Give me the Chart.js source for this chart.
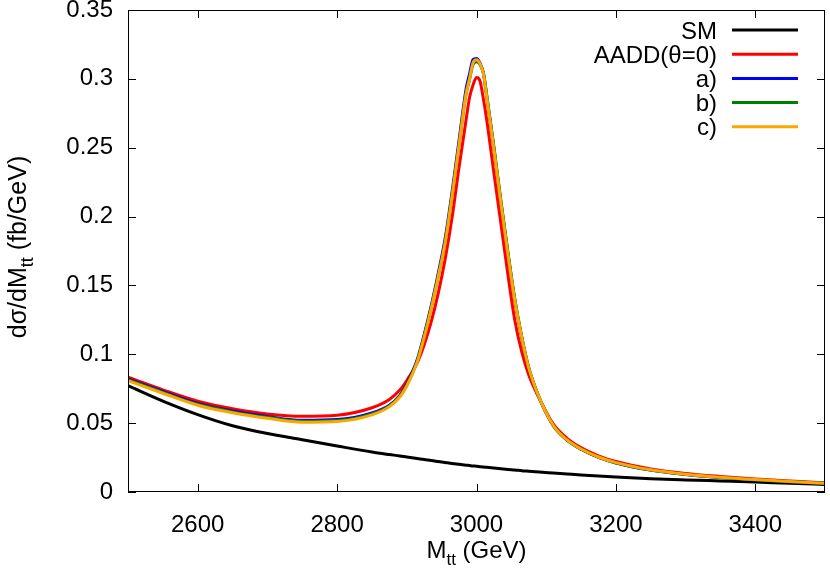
<!DOCTYPE html>
<html>
<head>
<meta charset="utf-8">
<script src="https://cdn.jsdelivr.net/npm/chart.js@4.4.1/dist/chart.umd.min.js"></script>
<style>
  html, body { margin: 0; padding: 0; background: #fff; }
  #wrap { width: 830px; height: 568px; }
</style>
</head>
<body>
<div id="wrap"><canvas id="myChart" width="830" height="568"></canvas></div>
<script>
// M_tt bins (GeV)
let mass = [2500, 2550, 2600, 2650, 2700, 2750, 2800, 2850, 2875, 2890, 2900, 2915, 2925, 2935, 2945, 2955, 2965, 2975, 2985, 2990,
  2995, 3000, 3005, 3010, 3015, 3025, 3035, 3045, 3055, 3065, 3075, 3090, 3110, 3130, 3150, 3175, 3200, 3250, 3300, 3350, 3400, 3450, 3500];

// dsigma/dM (fb/GeV)
let smVals = [0.0772, 0.0660, 0.0562, 0.0481, 0.0425, 0.0380, 0.0334, 0.0290, 0.0272, 0.0262, 0.0254, 0.0243, 0.0236, 0.0228, 0.0221, 0.0214, 0.0207, 0.0201, 0.0195, 0.0192,
  0.0189, 0.0187, 0.0184, 0.0181, 0.0179, 0.0174, 0.0169, 0.0164, 0.0160, 0.0155, 0.0151, 0.0145, 0.0138, 0.0131, 0.0124, 0.0116, 0.0109, 0.0097, 0.0088, 0.0080, 0.0072, 0.0063, 0.0055];
let aaddVals = [0.0834, 0.0742, 0.0660, 0.0605, 0.0567, 0.0550, 0.0558, 0.0612, 0.0672, 0.0740, 0.0810, 0.0940, 0.1070, 0.1235, 0.1440, 0.1690, 0.1994, 0.2360, 0.2700, 0.2865,
  0.2955, 0.3010, 0.2985, 0.2850, 0.2690, 0.2315, 0.1950, 0.1580, 0.1245, 0.1015, 0.0850, 0.0680, 0.0495, 0.0390, 0.0322, 0.0263, 0.0221, 0.0168, 0.0135, 0.0113, 0.0095, 0.0080, 0.0067];
let aVals = [0.0822, 0.0730, 0.0643, 0.0588, 0.0548, 0.0521, 0.0526, 0.0574, 0.0630, 0.0702, 0.0785, 0.0962, 0.1145, 0.1352, 0.1585, 0.1840, 0.2180, 0.2555, 0.2925, 0.3035,
  0.3140, 0.3148, 0.3115, 0.3040, 0.2862, 0.2495, 0.2105, 0.1735, 0.1393, 0.1120, 0.0898, 0.0683, 0.0483, 0.0376, 0.0310, 0.0252, 0.0211, 0.0159, 0.0127, 0.0105, 0.0088, 0.0075, 0.0063];
let bVals = [0.0815, 0.0723, 0.0637, 0.0582, 0.0542, 0.0514, 0.0519, 0.0567, 0.0625, 0.0696, 0.0778, 0.0952, 0.1133, 0.1337, 0.1565, 0.1817, 0.2155, 0.2525, 0.2890, 0.2995,
  0.3105, 0.3125, 0.3105, 0.3040, 0.2870, 0.2505, 0.2115, 0.1745, 0.1400, 0.1126, 0.0903, 0.0686, 0.0484, 0.0377, 0.0311, 0.0253, 0.0212, 0.0160, 0.0128, 0.0106, 0.0089, 0.0075, 0.0063];
let cVals = [0.0809, 0.0717, 0.0630, 0.0575, 0.0535, 0.0507, 0.0512, 0.0560, 0.0620, 0.0690, 0.0770, 0.0945, 0.1125, 0.1330, 0.1560, 0.1810, 0.2150, 0.2520, 0.2890, 0.3000,
  0.3115, 0.3138, 0.3110, 0.3035, 0.2857, 0.2490, 0.2100, 0.1730, 0.1390, 0.1120, 0.0900, 0.0685, 0.0485, 0.0378, 0.0312, 0.0254, 0.0213, 0.0161, 0.0129, 0.0107, 0.0090, 0.0076, 0.0064];

let seriesNames = ['SM', 'AADD(θ=0)', 'a)', 'b)', 'c)'];
let seriesColors = ['#000000', '#ff0000', '#0000ff', '#008000', '#ffa500'];

let xTicks = [2600, 2800, 3000, 3200, 3400];
let xTickLabels = ['2600', '2800', '3000', '3200', '3400'];
let yTicks = [0, 0.05, 0.1, 0.15, 0.2, 0.25, 0.3, 0.35];
let yTickLabels = ['0', '0.05', '0.1', '0.15', '0.2', '0.25', '0.3', '0.35'];

let xTitle = ['M', 'tt', ' (GeV)'];
let yTitle = ['dσ/dM', 'tt', ' (fb/GeV)'];

const FONT = "'Liberation Sans', Arial, sans-serif";

function pairs(vals) {
  return mass.map((m, i) => ({ x: m, y: vals[i] }));
}

// text with a subscript in the middle: [before, sub, after]
function subText(ctx, parts, x, y, size) {
  let big = size + 'px ' + FONT;
  let small = Math.round(size * 0.72) + 'px ' + FONT;
  ctx.font = big;
  let w0 = ctx.measureText(parts[0]).width;
  let w2 = ctx.measureText(parts[2]).width;
  ctx.font = small;
  let w1 = ctx.measureText(parts[1]).width;
  let left = x - (w0 + w1 + w2) / 2;
  ctx.textAlign = 'left';
  ctx.textBaseline = 'alphabetic';
  ctx.font = big;
  ctx.fillText(parts[0], left, y);
  ctx.font = small;
  ctx.fillText(parts[1], left + w0, y + size * 0.28);
  ctx.font = big;
  ctx.fillText(parts[2], left + w0 + w1, y);
}

const gnuFrame = {
  id: 'gnuFrame',
  afterDraw(chart) {
    let ctx = chart.ctx;
    let a = chart.chartArea;
    let xs = chart.scales.x;
    let ys = chart.scales.y;
    ctx.save();
    ctx.strokeStyle = '#000';
    ctx.lineWidth = 1;
    ctx.strokeRect(a.left + 0.5, a.top + 0.5, a.right - a.left - 1, a.bottom - a.top - 1);

    // inward ticks on all four sides
    ctx.beginPath();
    xTicks.forEach(v => {
      let px = Math.round(xs.getPixelForValue(v)) + 0.5;
      ctx.moveTo(px, a.bottom); ctx.lineTo(px, a.bottom - 8);
      ctx.moveTo(px, a.top); ctx.lineTo(px, a.top + 8);
    });
    yTicks.forEach(v => {
      let py = Math.round(ys.getPixelForValue(v)) + 0.5;
      ctx.moveTo(a.left, py); ctx.lineTo(a.left + 8, py);
      ctx.moveTo(a.right, py); ctx.lineTo(a.right - 8, py);
    });
    ctx.stroke();

    // key, top right, text right aligned before the sample line
    ctx.font = '24px ' + FONT;
    ctx.textAlign = 'right';
    ctx.textBaseline = 'alphabetic';
    chart.data.datasets.forEach((ds, i) => {
      let y = a.top + 20 + i * 24.2;
      ctx.fillStyle = '#000';
      ctx.fillText(ds.label, a.right - 108, y + 8.6);
      ctx.strokeStyle = ds.borderColor;
      ctx.lineWidth = 3;
      ctx.beginPath();
      ctx.moveTo(a.right - 93, y);
      ctx.lineTo(a.right - 27, y);
      ctx.stroke();
    });

    // axis titles
    ctx.fillStyle = '#000';
    subText(ctx, xTitle, (a.left + a.right) / 2, 558, 24);
    ctx.translate(26, (a.top + a.bottom) / 2 - 4);
    ctx.rotate(-Math.PI / 2);
    subText(ctx, yTitle, 0, 0, 25);
    ctx.restore();
  }
};

let allVals = [smVals, aaddVals, aVals, bVals, cVals];
let datasets = allVals.map((vals, i) => ({
  label: seriesNames[i],
  data: pairs(vals),
  borderColor: seriesColors[i],
  backgroundColor: seriesColors[i],
  borderWidth: 3,
  pointRadius: 0,
  fill: false,
  cubicInterpolationMode: 'monotone',
  order: allVals.length - i
}));

let ctx = document.getElementById('myChart').getContext('2d');
let chart = new Chart(ctx, {
  type: 'line',
  data: { datasets: datasets },
  options: {
    responsive: false,
    animation: false,
    devicePixelRatio: 1,
    layout: { padding: { top: 10, right: 5, left: 0, bottom: 0 } },
    plugins: {
      legend: { display: false },
      tooltip: { enabled: false }
    },
    scales: {
      x: {
        type: 'linear',
        min: 2500,
        max: 3500,
        grid: { display: false, drawTicks: false },
        border: { display: false },
        ticks: {
          padding: 19,
          color: '#000',
          font: { family: FONT, size: 24 },
          maxRotation: 0,
          callback: (v, i) => xTickLabels[i]
        },
        afterBuildTicks(scale) { scale.ticks = xTicks.map(v => ({ value: v })); },
        afterFit(scale) { scale.height = 76; scale.paddingLeft = 0; scale.paddingRight = 0; }
      },
      y: {
        type: 'linear',
        min: 0,
        max: 0.35,
        grid: { display: false, drawTicks: false },
        border: { display: false },
        ticks: {
          padding: 15,
          color: '#000',
          font: { family: FONT, size: 24 },
          callback: (v, i) => yTickLabels[i]
        },
        afterBuildTicks(scale) { scale.ticks = yTicks.map(v => ({ value: v })); },
        afterFit(scale) { scale.width = 128; scale.paddingTop = 0; scale.paddingBottom = 0; }
      }
    }
  },
  plugins: [gnuFrame]
});
</script>
</body>
</html>
